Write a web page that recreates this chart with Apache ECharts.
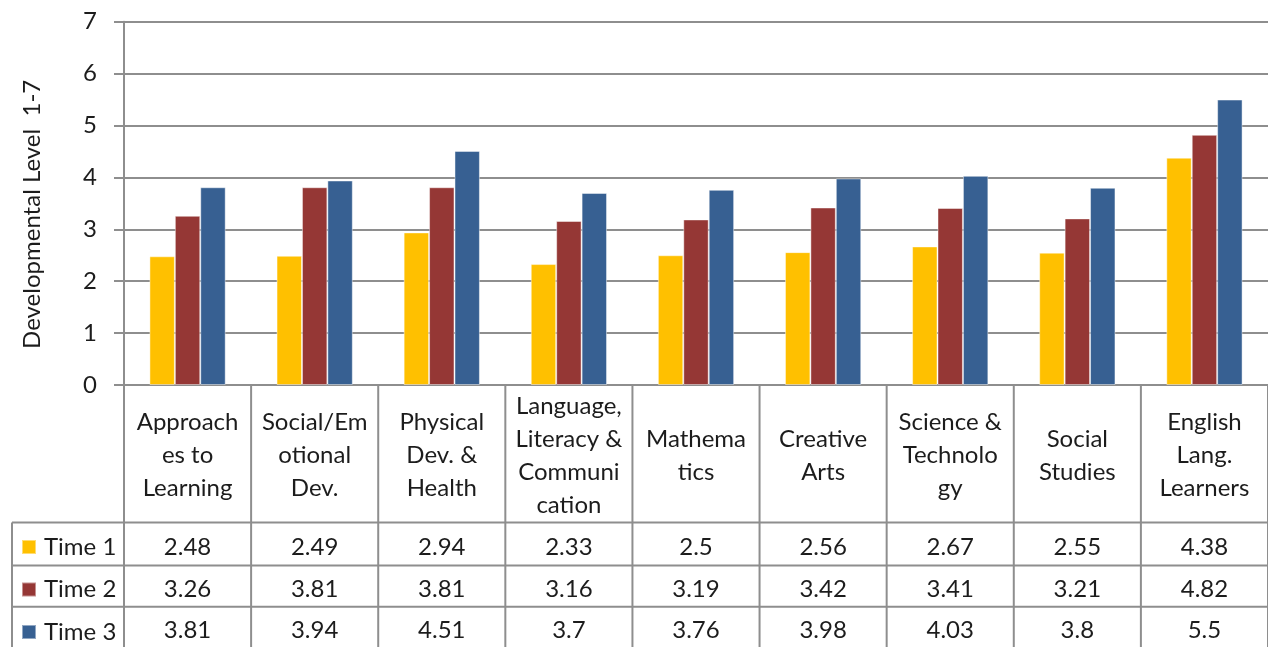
<!DOCTYPE html>
<html>
<head>
<meta charset="utf-8">
<script src="https://cdn.jsdelivr.net/npm/echarts@6/dist/echarts.min.js"></script>
<style>
html,body{margin:0;padding:0;background:#fff;}
#main{width:1268px;height:647px;}
</style>
</head>
<body>
<div id="main"></div>
<script>
// ---- data ----
var categories = ['Approach\nes to\nLearning', 'Social/Em\notional\nDev.', 'Physical\nDev. &\nHealth',
  'Language,\nLiteracy &\nCommuni\ncation', 'Mathema\ntics', 'Creative\nArts',
  'Science &\nTechnolo\ngy', 'Social\nStudies', 'English\nLang.\nLearners'];
var seriesNames = ['Time 1', 'Time 2', 'Time 3'];
var time1 = [2.48, 2.49, 2.94, 2.33, 2.5, 2.56, 2.67, 2.55, 4.38];
var time2 = [3.26, 3.81, 3.81, 3.16, 3.19, 3.42, 3.41, 3.21, 4.82];
var time3 = [3.81, 3.94, 4.51, 3.7, 3.76, 3.98, 4.03, 3.8, 5.5];
var yTicks = [0, 1, 2, 3, 4, 5, 6, 7];
var yTitle = 'Developmental Level  1-7';

// ---- style ----
var COLORS = ['#FFC000', '#953735', '#376092'];
var LINE_C = '#8e8e8e';
var TEXT_C = '#1c1c1c';
var FONT = 'Lato, "Open Sans", sans-serif';
var FS = 24;
var ROW_EDGES = [0, 140, 184, 226, 267];
var LEGEND_W = 112;
var TXT_DY = 3;

var rows = [time1, time2, time3];
var chart = echarts.init(document.getElementById('main'), null, {renderer: 'canvas'});

function renderTable(params, api) {
  var i = api.value(0);
  var top = api.coord([i, 0]);
  var band = api.size([1, 0])[0];
  var cx = top[0], x0 = cx - band / 2, x1 = cx + band / 2;
  function yAt(v) { return api.coord([i, v])[1]; }
  var ls = {stroke: LINE_C, lineWidth: 2};
  var ch = [];
  ch.push({type: 'line', shape: {x1: x0, y1: yAt(ROW_EDGES[0]), x2: x0, y2: yAt(ROW_EDGES[4])}, style: ls});
  if (i === categories.length - 1) {
    ch.push({type: 'line', shape: {x1: x1, y1: yAt(ROW_EDGES[0]), x2: x1, y2: yAt(ROW_EDGES[4])}, style: ls});
  }
  var lx = i === 0 ? x0 - LEGEND_W : x0;
  for (var k = 1; k <= 3; k++) {
    ch.push({type: 'line', shape: {x1: lx, y1: yAt(ROW_EDGES[k]), x2: x1, y2: yAt(ROW_EDGES[k])}, style: ls});
  }
  if (i === 0) {
    ch.push({type: 'line', shape: {x1: lx, y1: yAt(ROW_EDGES[1]), x2: lx, y2: yAt(ROW_EDGES[4])}, style: ls});
  }
  ch.push({type: 'text', style: {
    text: categories[i], x: cx, y: (yAt(ROW_EDGES[0]) + yAt(ROW_EDGES[1])) / 2 + 2,
    align: 'center', verticalAlign: 'middle', fontSize: FS, lineHeight: 33,
    fontFamily: FONT, fill: TEXT_C}});
  for (var r = 0; r < rows.length; r++) {
    ch.push({type: 'text', style: {
      text: String(rows[r][i]), x: cx, y: (yAt(ROW_EDGES[r + 1]) + yAt(ROW_EDGES[r + 2])) / 2 + TXT_DY,
      align: 'center', verticalAlign: 'middle', fontSize: FS,
      fontFamily: FONT, fill: TEXT_C}});
  }
  return {type: 'group', children: ch};
}

var barSeries = rows.map(function (arr, k) {
  return {
    name: seriesNames[k], type: 'bar', xAxisIndex: 0, yAxisIndex: 0,
    data: arr, barGap: '0%', barCategoryGap: '40%',
    itemStyle: {color: COLORS[k], borderColor: 'rgba(255,255,255,0.45)', borderWidth: 1}
  };
});

var option = {
  animation: false,
  backgroundColor: '#fff',
  textStyle: {fontFamily: FONT},
  grid: [
    {left: 124, right: -3, top: 21.7, bottom: 262, containLabel: false},
    {left: 124, right: -3, top: 385, bottom: -5, containLabel: false}
  ],
  legend: {
    data: seriesNames, orient: 'vertical', left: 21, top: 535, height: 300, padding: 0,
    itemWidth: 14, itemHeight: 14, itemGap: 18.5, icon: 'rect', selectedMode: false,
    textStyle: {fontSize: FS, lineHeight: 24, fontFamily: FONT, color: TEXT_C, padding: [0, 0, 0, 3]}
  },
  xAxis: [
    {type: 'category', gridIndex: 0, data: categories,
      axisLine: {show: true, lineStyle: {color: LINE_C, width: 2}},
      axisTick: {show: false}, axisLabel: {show: false}, splitLine: {show: false}},
    {type: 'category', gridIndex: 1, data: categories, show: false}
  ],
  yAxis: [
    {type: 'value', gridIndex: 0, min: yTicks[0], max: yTicks[yTicks.length - 1], interval: 1,
      name: yTitle, nameLocation: 'middle', nameRotate: 90, nameGap: 80,
      nameTextStyle: {fontSize: 24, fontFamily: FONT, color: TEXT_C, padding: [0, 22, 0, 0]},
      axisLine: {show: true, lineStyle: {color: LINE_C, width: 2}},
      axisTick: {show: true, length: 10, lineStyle: {color: LINE_C, width: 2}},
      axisLabel: {fontSize: FS, fontFamily: FONT, color: TEXT_C, margin: 27},
      splitLine: {show: true, lineStyle: {color: LINE_C, width: 2}}},
    {type: 'value', gridIndex: 1, min: 0, max: 267, inverse: true, show: false}
  ],
  series: barSeries.concat([{
    type: 'custom', xAxisIndex: 1, yAxisIndex: 1, silent: true,
    renderItem: renderTable,
    data: categories.map(function (c, i) { return [i]; }),
    clip: false
  }])
};
chart.setOption(option);
</script>
</body>
</html>
